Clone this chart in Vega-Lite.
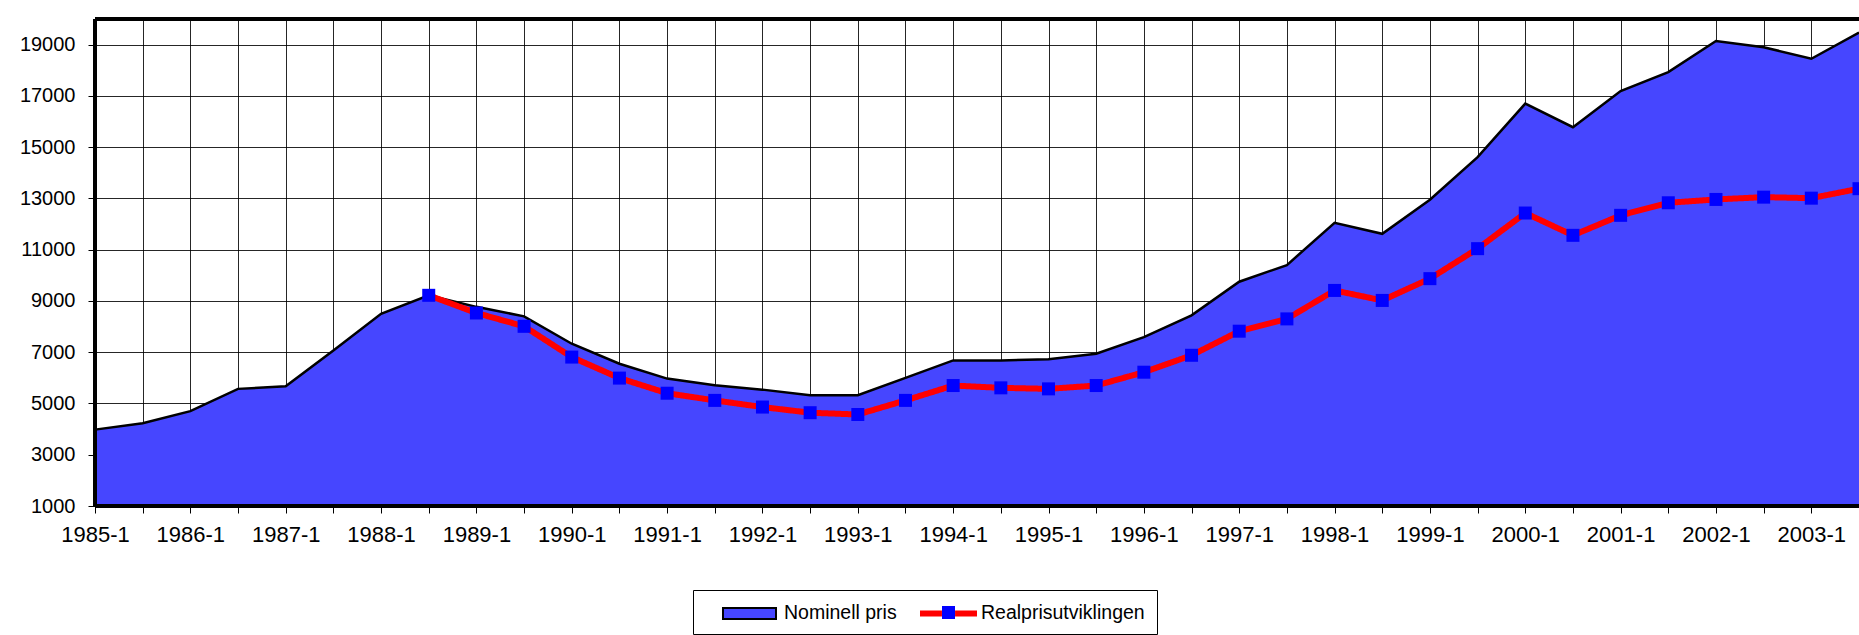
{
  "$schema": "https://vega.github.io/schema/vega-lite/v6.json",
  "autosize": {"type": "none"},
  "padding": {"left": 95, "top": 19, "right": 0, "bottom": 129},
  "width": 1764,
  "height": 487,
  "background": "white",
  "config": {
    "font": "Liberation Sans",
    "view": {"stroke": null},
    "axis": {"labelColor": "#000", "tickColor": "#000", "gridColor": "#000", "gridWidth": 1, "gridOpacity": 0.85, "domain": false, "title": null}
  },
  "data": {
    "values": [
      {"period": "1985-1", "nominell": 3980, "real": null},
      {"period": "1985-2", "nominell": 4230, "real": null},
      {"period": "1986-1", "nominell": 4700, "real": null},
      {"period": "1986-2", "nominell": 5570, "real": null},
      {"period": "1987-1", "nominell": 5670, "real": null},
      {"period": "1987-2", "nominell": 7070, "real": null},
      {"period": "1988-1", "nominell": 8500, "real": null},
      {"period": "1988-2", "nominell": 9220, "real": 9220},
      {"period": "1989-1", "nominell": 8770, "real": 8530},
      {"period": "1989-2", "nominell": 8400, "real": 8010},
      {"period": "1990-1", "nominell": 7330, "real": 6810},
      {"period": "1990-2", "nominell": 6550, "real": 5990},
      {"period": "1991-1", "nominell": 5970, "real": 5400},
      {"period": "1991-2", "nominell": 5710, "real": 5120},
      {"period": "1992-1", "nominell": 5540, "real": 4860},
      {"period": "1992-2", "nominell": 5320, "real": 4640},
      {"period": "1993-1", "nominell": 5320, "real": 4570},
      {"period": "1993-2", "nominell": 6000, "real": 5120},
      {"period": "1994-1", "nominell": 6680, "real": 5700},
      {"period": "1994-2", "nominell": 6680, "real": 5610},
      {"period": "1995-1", "nominell": 6730, "real": 5570},
      {"period": "1995-2", "nominell": 6940, "real": 5700},
      {"period": "1996-1", "nominell": 7590, "real": 6220},
      {"period": "1996-2", "nominell": 8440, "real": 6880},
      {"period": "1997-1", "nominell": 9750, "real": 7820},
      {"period": "1997-2", "nominell": 10400, "real": 8300},
      {"period": "1998-1", "nominell": 12050, "real": 9410},
      {"period": "1998-2", "nominell": 11620, "real": 9020},
      {"period": "1999-1", "nominell": 12950, "real": 9870},
      {"period": "1999-2", "nominell": 14610, "real": 11040},
      {"period": "2000-1", "nominell": 16700, "real": 12430},
      {"period": "2000-2", "nominell": 15780, "real": 11560},
      {"period": "2001-1", "nominell": 17190, "real": 12340},
      {"period": "2001-2", "nominell": 17930, "real": 12830},
      {"period": "2002-1", "nominell": 19140, "real": 12960},
      {"period": "2002-2", "nominell": 18900, "real": 13050},
      {"period": "2003-1", "nominell": 18450, "real": 13010},
      {"period": "2003-2", "nominell": 19470, "real": 13380}
    ]
  },
  "layer": [
    {
      "mark": {"type": "area", "opacity": 1},
      "encoding": {
        "x": {
          "field": "period", "type": "ordinal", "sort": null,
          "scale": {"type": "point", "padding": 0},
          "axis": {
            "grid": true, "labelAngle": 0, "labelFontSize": 22, "labelPadding": 11, "tickSize": 7, "tickWidth": 1,
            "labelOverlap": false, "labelFlush": false,
            "labelExpr": "slice(datum.label, -1) == '2' ? '' : datum.label"
          }
        },
        "y": {
          "field": "nominell", "type": "quantitative",
          "scale": {"domain": [1000, 20000], "zero": false, "nice": false},
          "axis": {"values": [1000, 3000, 5000, 7000, 9000, 11000, 13000, 15000, 17000, 19000], "format": "d", "labelFontSize": 20, "labelPadding": 13, "tickSize": 7, "grid": true}
        },
        "y2": {"datum": 1000},
        "color": {
          "datum": "Nominell pris", "type": "nominal",
          "scale": {"domain": ["Nominell pris", "Realprisutviklingen"], "range": ["#4646ff", "#ff0000"]},
          "legend": {
            "title": null, "orient": "none", "direction": "horizontal", "legendX": 598, "legendY": 571,
            "strokeColor": "#000", "padding": 12, "labelFontSize": 19.5, "labelColor": "#000", "labelFont": "Liberation Sans", "labelLimit": 400,
            "symbolSize": 361, "symbolOffset": 35, "labelOffset": 23, "columnPadding": 5, "symbolOpacity": 0,
            "labelExpr": "datum.label == 'Realprisutviklingen' ? datum.label + '    ' : datum.label"
          }
        }
      }
    },
    {
      "mark": {"type": "line", "strokeWidth": 2.5},
      "encoding": {
        "x": {"field": "period", "type": "ordinal", "sort": null},
        "y": {"field": "nominell", "type": "quantitative"},
        "stroke": {
          "datum": "a", "type": "nominal",
          "scale": {"domain": ["a"], "range": ["#000000"]},
          "legend": {
            "title": null, "orient": "none", "legendX": 625, "legendY": 565, "padding": 0, "labelExpr": "''", "labelFontSize": 1,
            "symbolSize": 3249, "symbolType": "M-0.93,-0.19H0.93V0.19H-0.93Z", "symbolFillColor": "#4646ff", "symbolStrokeWidth": 2, "symbolOpacity": 1
          }
        }
      }
    },
    {
      "mark": {"type": "line", "strokeWidth": 6},
      "encoding": {
        "x": {"field": "period", "type": "ordinal", "sort": null},
        "y": {"field": "real", "type": "quantitative"},
        "color": {"datum": "Realprisutviklingen", "type": "nominal", "legend": null},
        "strokeDash": {
          "datum": "b", "type": "nominal",
          "scale": {"domain": ["b"], "range": [[1, 0]]},
          "legend": {
            "title": null, "orient": "none", "legendX": 822, "legendY": 563, "padding": 0, "labelExpr": "''", "labelFontSize": 1,
            "symbolSize": 3249, "symbolType": "M-1,0H-0.23M0.23,0H1", "symbolFillColor": "transparent", "symbolStrokeColor": "#ff0000", "symbolStrokeWidth": 6, "symbolOpacity": 1
          }
        }
      }
    },
    {
      "mark": {"type": "point", "filled": true, "color": "#0000ff", "size": 169, "opacity": 1},
      "encoding": {
        "x": {"field": "period", "type": "ordinal", "sort": null},
        "y": {"field": "real", "type": "quantitative"},
        "shape": {
          "datum": "sq", "type": "nominal",
          "scale": {"domain": ["sq"], "range": ["square"]},
          "legend": {"title": null, "orient": "none", "legendX": 847, "legendY": 587, "padding": 0, "labelExpr": "''", "labelFontSize": 1, "symbolSize": 169, "symbolFillColor": "#0000ff", "symbolStrokeWidth": 0, "symbolOpacity": 1}
        }
      }
    },
    {
      "mark": {"type": "rule", "color": "#000", "strokeWidth": 2.5},
      "encoding": {"y": {"datum": 20000}}
    },
    {
      "mark": {"type": "rule", "color": "#000", "strokeWidth": 3},
      "encoding": {"y": {"datum": 1000}}
    },
    {
      "mark": {"type": "rule", "color": "#000", "strokeWidth": 2.5},
      "encoding": {"x": {"datum": "1985-1"}}
    }
  ]
}
